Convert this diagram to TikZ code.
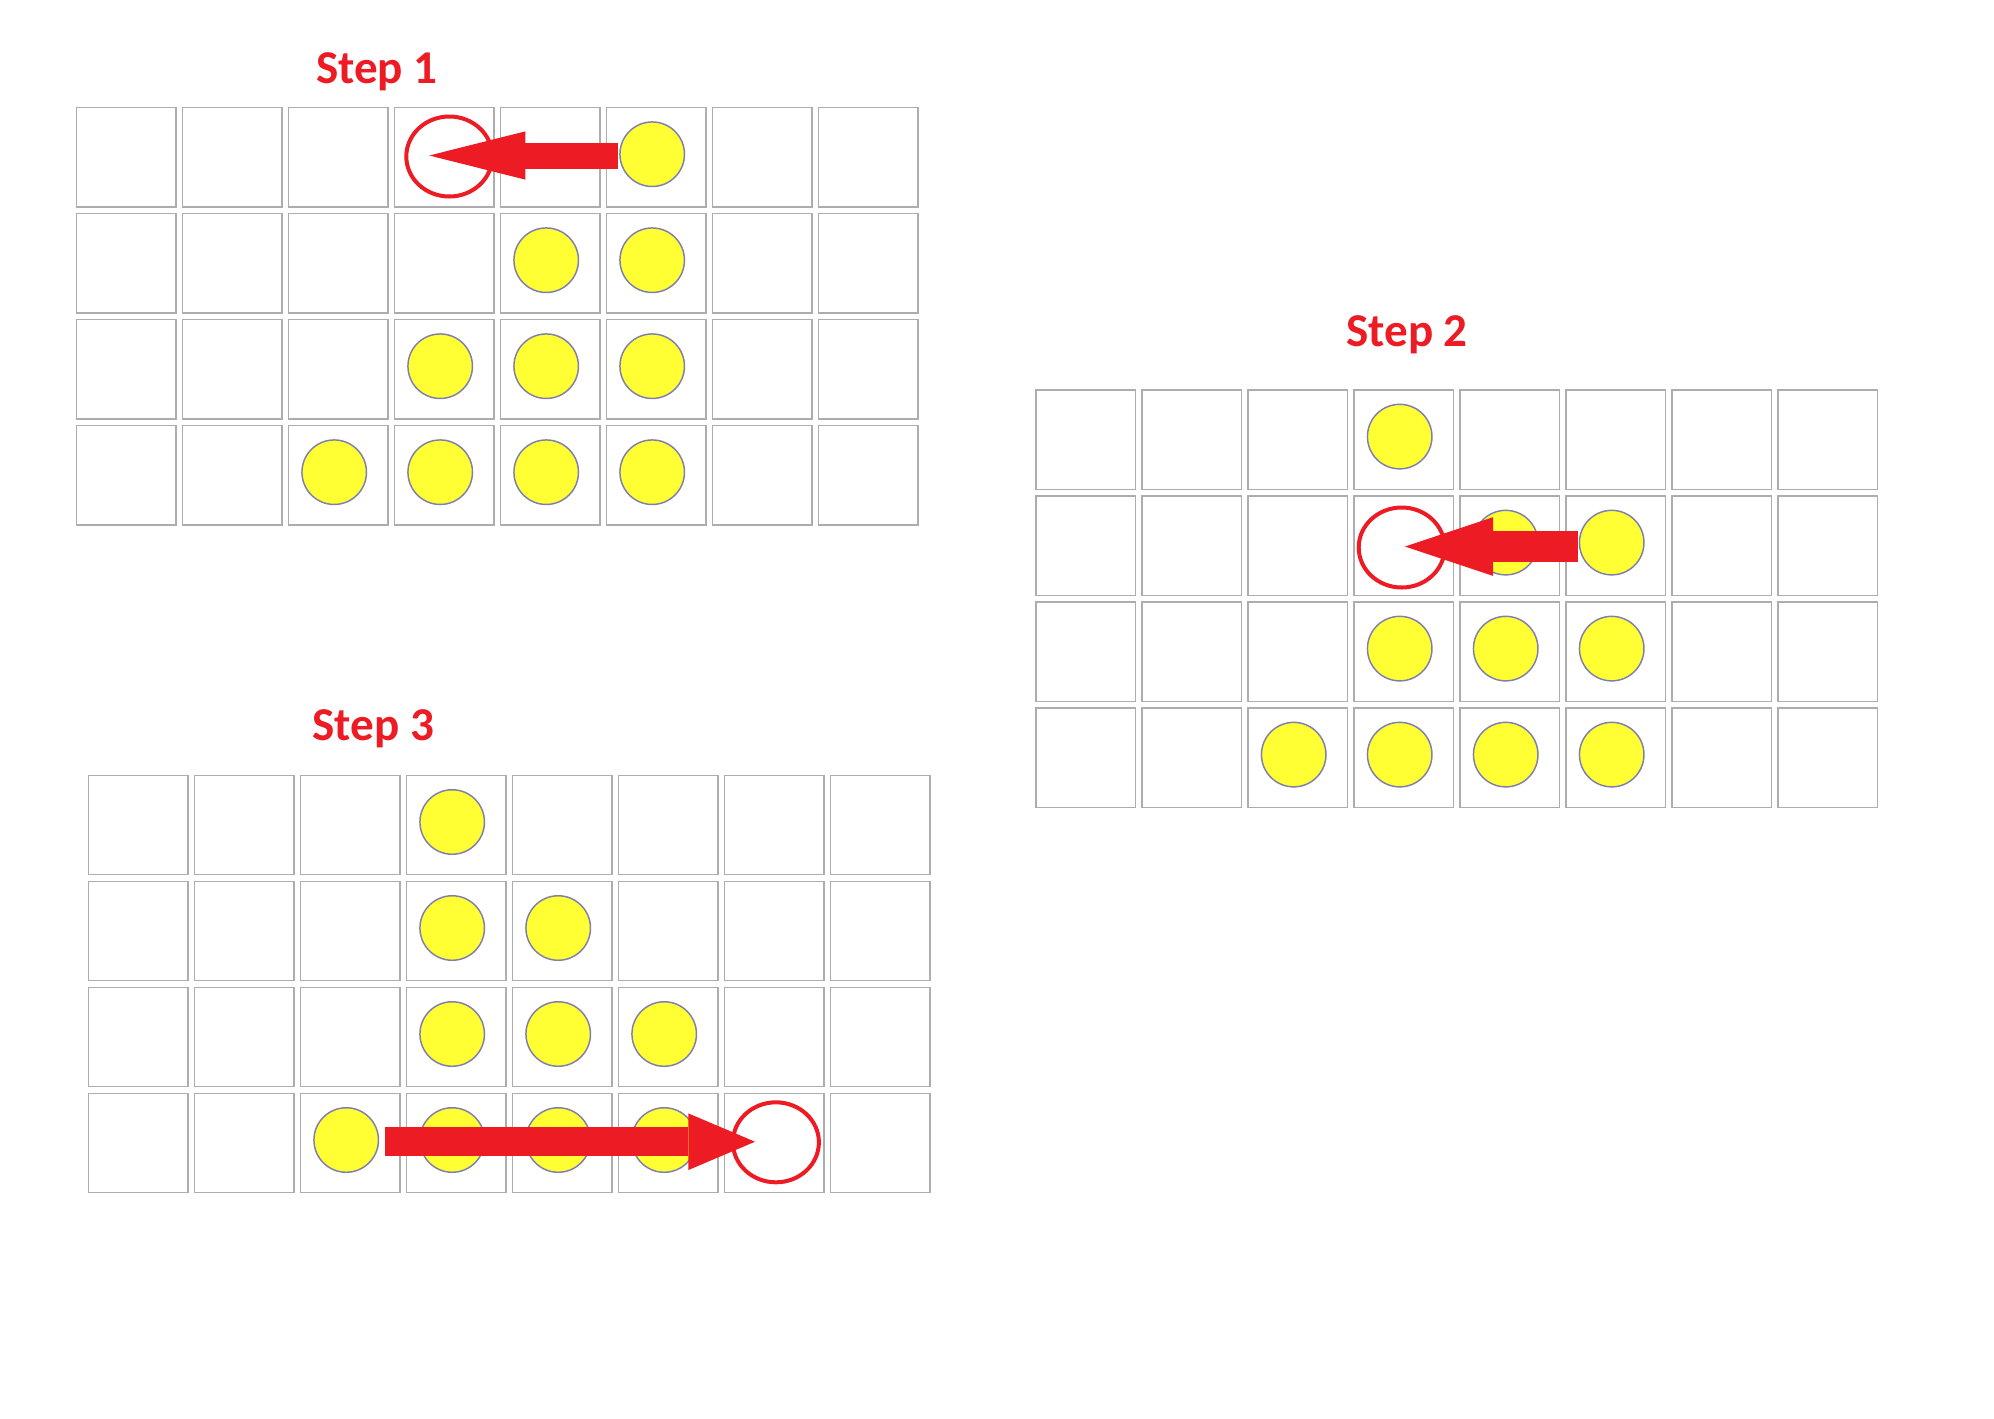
\documentclass[tikz,border=0pt]{standalone}
\usepackage{fontspec}
\setmainfont{Carlito}
\usetikzlibrary{arrows.meta,shapes.geometric}
\definecolor{stepred}{HTML}{ED1C24}
\definecolor{gridgray}{HTML}{ADADAD}
\definecolor{ballyellow}{HTML}{FFFF33}
\definecolor{ballrim}{HTML}{7F7FAF}
\begin{document}
\begin{tikzpicture}[x=0.75pt,y=-0.75pt,
  cellbox/.style={draw=gridgray,line width=1.1pt,minimum size=74.6pt,inner sep=0pt,fill=white},
  ball/.style={circle,draw=ballrim,fill=ballyellow,line width=1.1pt,minimum size=48.4pt,inner sep=0pt},
  ring/.style={ellipse,draw=stepred,line width=3pt,minimum width=64.5pt,minimum height=60pt,inner sep=0pt},
  title/.style={text=stepred,font=\bfseries\fontsize{35.3}{40}\selectfont,anchor=base,inner sep=0pt},
  blockarrow/.style={draw=stepred,line width=#1},
]
\useasboundingbox[fill=white] (0,0) rectangle (1994,1418);
% grids
\foreach \g/\ox/\oy in {a/75.7/106.7, b/1035.2/389.1, c/87.7/774.5}{
  \foreach \r in {0,...,3}{
    \foreach \c in {0,...,7}{
      \node[cellbox] (\g-\r-\c) at ({\ox+50.5+106*\c},{\oy+50.5+106*\r}) {};
    }
  }
}
% balls
\foreach \g/\r/\c in {a/0/5, a/1/4, a/1/5, a/2/3, a/2/4, a/2/5, a/3/2, a/3/3, a/3/4, a/3/5,
                      b/0/3, b/1/4, b/1/5, b/2/3, b/2/4, b/2/5, b/3/2, b/3/3, b/3/4, b/3/5,
                      c/0/3, c/1/3, c/1/4, c/2/3, c/2/4, c/2/5, c/3/2, c/3/3, c/3/4, c/3/5}{
  \node[ball] (ball-\g-\r-\c) at ([shift={(-4,-3)}]\g-\r-\c.center) {};
}
% target rings
\node[ring] (ring-a) at (449.3,156.5) {};
\node[ring] (ring-b) at (1401.7,547.5) {};
\node[ring] (ring-c) at (775.9,1142.3) {};
% arrows
\coordinate (tail-a) at (617.7,155.5);
\coordinate (tip-a) at (429.3,155.5);
\coordinate (tail-b) at (1577.7,546.5);
\coordinate (tip-b) at (1405,546.5);
\coordinate (tail-c) at (385.4,1141.7);
\coordinate (tip-c) at (755,1141.7);
\draw[blockarrow=19.5pt,-{Triangle[length=72pt,width=36.2pt,line width=0pt]}] (tail-a) -- (tip-a);
\draw[blockarrow=23.8pt,-{Triangle[length=66pt,width=44pt,line width=0pt]}] (tail-b) -- (tip-b);
\draw[blockarrow=21.5pt,-{Triangle[length=50pt,width=42.5pt,line width=0pt]}] (tail-c) -- (tip-c);
% titles
\node[title] (t1) at (377,83) {Step 1};
\node[title] (t2) at (1407,346.7) {Step 2};
\node[title] (t3) at (373.3,740) {Step 3};
\end{tikzpicture}
\end{document}
